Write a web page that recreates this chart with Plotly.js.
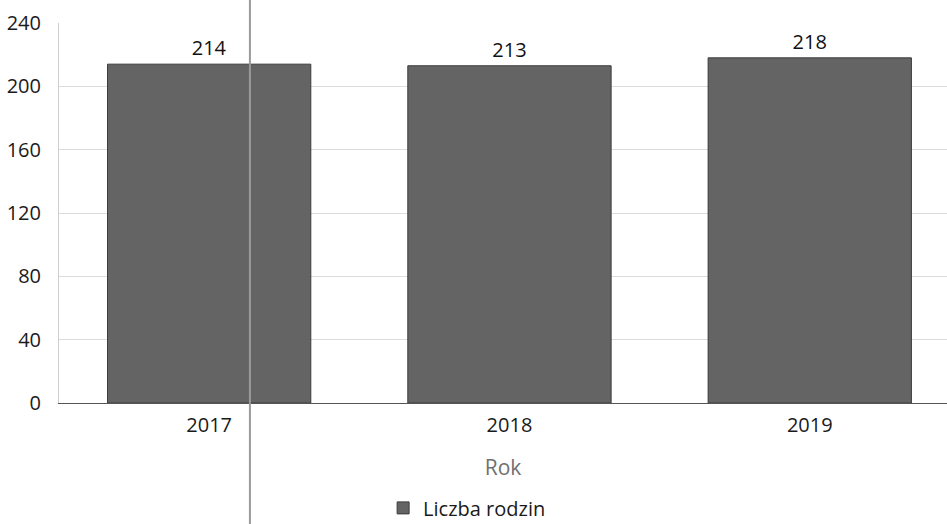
<!DOCTYPE html>
<html>
<head>
<meta charset="utf-8">
<script src="https://cdn.plot.ly/plotly-3.0.1.min.js"></script>
<style>html,body{margin:0;padding:0;background:#fff;}#chart{width:947px;height:524px;}</style>
</head>
<body>
<div id="chart"></div>
<script>
const years = ["2017", "2018", "2019"];
const families = [214, 213, 218];
const seriesName = "Liczba rodzin";
const yTicks = [0, 40, 80, 120, 160, 200, 240];

const trace = {
  type: "bar",
  x: years,
  y: families,
  name: seriesName,
  text: families.map(String),
  textposition: "outside",
  cliponaxis: false,
  textfont: {family: "Open Sans, sans-serif", size: 20, color: "#111"},
  marker: {color: "#646464", line: {color: "#3c3c3c", width: 1}},
  showlegend: true
};

const layout = {
  width: 947, height: 524,
  margin: {l: 59, r: 0, t: 23, b: 121, autoexpand: false},
  paper_bgcolor: "#fff", plot_bgcolor: "#fff",
  font: {family: "Open Sans, sans-serif", size: 20, color: "#1a1a1a"},
  bargap: 0.323,
  xaxis: {
    type: "category",
    range: [-0.5, 2.457],
    showgrid: false,
    showline: true, linecolor: "#555", linewidth: 1,
    ticks: "", ticklabelstandoff: 4,
    tickfont: {size: 20, color: "#1a1a1a"},
    title: {text: "Rok", font: {size: 21, color: "#707070"}, standoff: 23}
  },
  yaxis: {
    range: [0, 240],
    tickvals: yTicks,
    showgrid: true, gridcolor: "#dcdcdc", gridwidth: 1,
    zeroline: false,
    showline: true, linecolor: "#cfcfcf", linewidth: 1,
    ticks: "", ticklabelstandoff: 13,
    tickfont: {size: 20, color: "#1a1a1a"}
  },
  legend: {
    orientation: "h", x: 0.365, xanchor: "left", y: -0.276, yanchor: "middle",
    font: {size: 20, color: "#1a1a1a"}
  },
  shapes: [{
    type: "line", xref: "paper", yref: "paper",
    x0: 0.215, x1: 0.215, y0: -0.33, y1: 1.07,
    line: {color: "#9a9a9a", width: 2}
  }]
};

Plotly.newPlot("chart", [trace], layout, {displayModeBar: false, staticPlot: true});
</script>
</body>
</html>
